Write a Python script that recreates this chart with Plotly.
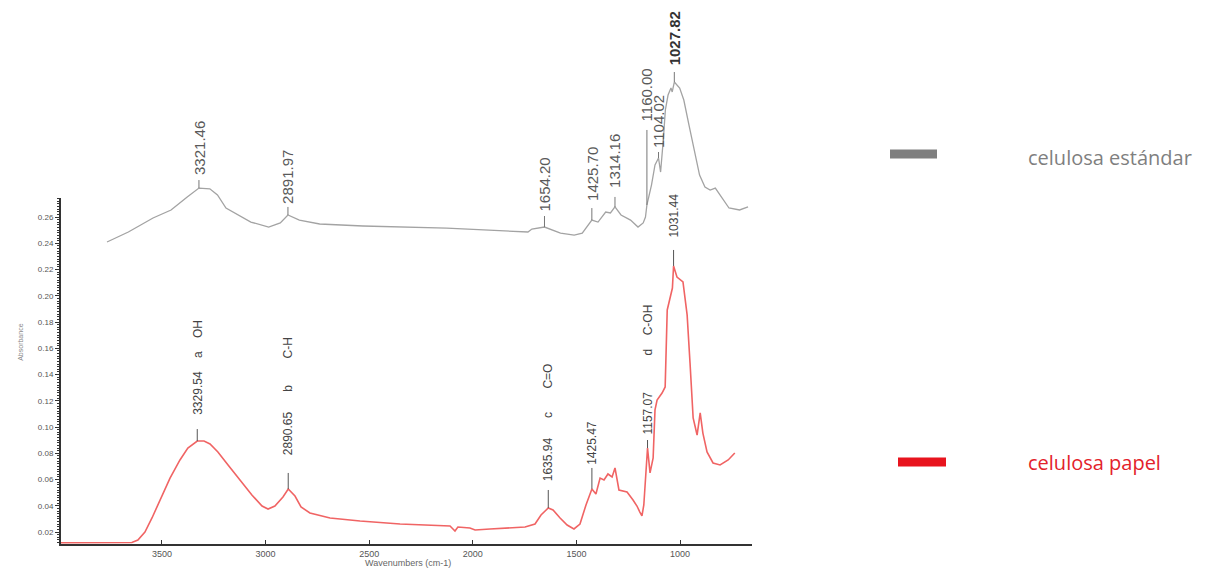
import plotly.graph_objects as go

# --- celulosa papel: wavenumber (cm-1) and absorbance ---
papel_wn = [3987, 3799, 3645, 3616, 3582, 3548, 3510, 3461, 3413, 3375,
            3329.54, 3297, 3268, 3230, 3181, 3124, 3066, 3017, 2988, 2955,
            2916, 2890.65, 2858, 2829, 2786, 2689, 2544, 2351, 2158, 2110,
            2086, 2072, 2014, 1989, 1917, 1821, 1748, 1700, 1671, 1635.94,
            1613, 1579, 1545, 1512, 1483, 1454, 1425.47, 1406, 1386, 1367,
            1348, 1328, 1314, 1295, 1256, 1227, 1208, 1194, 1184, 1175,
            1157.07, 1145, 1130, 1121, 1111, 1087, 1072, 1062, 1037, 1031.44,
            1015, 986, 966, 952, 937, 918, 903, 890, 870, 841,
            807, 768, 736]
papel_abs = [0.0118, 0.0118, 0.0120, 0.0139, 0.0200, 0.0307, 0.0444, 0.0611, 0.0749, 0.0840,
             0.0893, 0.0893, 0.0871, 0.0810, 0.0711, 0.0596, 0.0482, 0.0398, 0.0375, 0.0398,
             0.0467, 0.0528, 0.0474, 0.0391, 0.0345, 0.0307, 0.0284, 0.0261, 0.0246, 0.0246,
             0.0208, 0.0238, 0.0230, 0.0215, 0.0223, 0.0230, 0.0238, 0.0261, 0.0330, 0.0383,
             0.0368, 0.0307, 0.0253, 0.0223, 0.0261, 0.0406, 0.0528, 0.0490, 0.0611, 0.0596,
             0.0642, 0.0619, 0.0688, 0.0520, 0.0505, 0.0444, 0.0398, 0.0352, 0.0322, 0.0406,
             0.0840, 0.0650, 0.0764, 0.1130, 0.1206, 0.1259, 0.1305, 0.1892, 0.2059, 0.2227,
             0.2143, 0.2105, 0.1854, 0.1488, 0.1069, 0.0939, 0.1107, 0.0954, 0.0810, 0.0726,
             0.0711, 0.0749, 0.0802]

# --- celulosa estándar (offset spectrum drawn above) ---
estandar_wn = [3765, 3662, 3543, 3456, 3378, 3321.46, 3269, 3232, 3191, 3146,
               3071, 2985, 2929, 2891.97, 2837, 2739, 2530, 2126, 1734, 1715,
               1654.20, 1577, 1511, 1472, 1449, 1425.70, 1396, 1359, 1336, 1314.16,
               1285, 1239, 1203, 1178, 1167, 1160.00, 1138, 1121, 1104.02, 1094,
               1081, 1071, 1058, 1044, 1038, 1027.82, 1002, 982, 957, 931,
               906, 880, 855, 830, 799, 764, 713, 672]
estandar_abs = [0.2410, 0.2486, 0.2593, 0.2654, 0.2753, 0.2821, 0.2815, 0.2768, 0.2669, 0.2631,
                0.2562, 0.2524, 0.2555, 0.2616, 0.2577, 0.2547, 0.2532, 0.2516, 0.2486, 0.2509,
                0.2524, 0.2478, 0.2463, 0.2478, 0.2524, 0.2577, 0.2562, 0.2638, 0.2631, 0.2677,
                0.2616, 0.2577, 0.2524, 0.2555, 0.2600, 0.2692, 0.2844, 0.2997, 0.3050, 0.2943,
                0.3187, 0.3416, 0.3530, 0.3583, 0.3553, 0.3629, 0.3583, 0.3492, 0.3301, 0.3111,
                0.2920, 0.2829, 0.2806, 0.2821, 0.2745, 0.2669, 0.2654, 0.2677]

# peak labels (wavenumber, text)
papel_peaks = [3329.54, 2890.65, 1635.94, 1425.47, 1157.07, 1031.44]
papel_peak_text = ["3329.54    a    OH", "2890.65      b        C-H", "1635.94      c       C=O",
                   "1425.47", "1157.07           d    C-OH", "1031.44"]
estandar_peaks = [3321.46, 2891.97, 1654.20, 1425.70, 1314.16, 1160.00, 1104.02, 1027.82]
estandar_peak_text = ["3321.46", "2891.97", "1654.20", "1425.70", "1314.16", "1160.00", "1104.02", "1027.82"]

x_ticks = [3500, 3000, 2500, 2000, 1500, 1000]
y_ticks = [0.02, 0.04, 0.06, 0.08, 0.10, 0.12, 0.14, 0.16, 0.18, 0.20, 0.22, 0.24, 0.26]
series_names = ["celulosa estándar", "celulosa papel"]

# styling
GRAY_LINE = "#a3a3a3"
RED_LINE = "#f06464"
AXIS = "#333333"
LABEL_FONT = "Liberation Sans"
# (stick length px, text offset px) above each labelled peak
papel_marks = [(12, 24), (16, 32), (18, 25), (21, 22), (8, 11), (16, 26)]
estandar_marks = [(8, 11), (8, 9), (11, 14), (12, 17), (10, 17), (75, 82), (6, 8), (10, 15)]

W, H, L, R, B = 1210, 579, 61, 458, 35
PW, PH = W - L - R, H - B
Y_LO, Y_AXIS_TOP, Y2_TOP = 0.01086, 0.2745, 0.4254
PX_TOP = 198                              # pixel row where the drawn y axis ends
UNIT_PER_PX = (Y2_TOP - Y_LO) / PH

fig = go.Figure()
fig.add_trace(go.Scatter(x=estandar_wn, y=estandar_abs, mode="lines", yaxis="y2",
                         line=dict(color=GRAY_LINE, width=1.3), name=series_names[0],
                         showlegend=False, hoverinfo="skip"))
fig.add_trace(go.Scatter(x=papel_wn, y=papel_abs, mode="lines",
                         line=dict(color=RED_LINE, width=1.6), name=series_names[1],
                         showlegend=False, hoverinfo="skip"))

nb = lambda s: s.replace(" ", "\u00a0")


def label_peaks(wns, texts, marks, lookup, yaxis, yref, color, stick_color, size, bold_wn=None):
    sx, sy = [], []
    for wn, txt, (stick, off) in zip(wns, texts, marks):
        v = lookup[wn]
        sx += [wn, wn, None]
        sy += [v, v + stick * UNIT_PER_PX, None]
        bold = wn == bold_wn
        fig.add_annotation(x=wn, y=v, xref="x", yref=yref, yshift=off,
                           text=f"<b>{nb(txt)}</b>" if bold else nb(txt),
                           textangle=-90, showarrow=False,
                           yanchor="bottom", xanchor="center",
                           font=dict(family=LABEL_FONT, size=size,
                                     color="#333333" if bold else color))
    fig.add_trace(go.Scatter(x=sx, y=sy, mode="lines", yaxis=yaxis,
                             line=dict(color=stick_color, width=1),
                             showlegend=False, hoverinfo="skip"))


label_peaks(papel_peaks, papel_peak_text, papel_marks, dict(zip(papel_wn, papel_abs)),
            "y", "y", "#444444", "#555555", 12)
label_peaks(estandar_peaks, estandar_peak_text, estandar_marks,
            dict(zip(estandar_wn, estandar_abs)), "y2", "y2", "#5a5a5a", "#777777", 15,
            bold_wn=1027.82)

# axis titles
fig.add_annotation(text="Absorbance", xref="paper", yref="paper", x=-0.0666, y=0.333,
                   textangle=-90, showarrow=False,
                   font=dict(family=LABEL_FONT, size=7, color="#888888"))
fig.add_annotation(text="Wavenumbers (cm-1)", xref="paper", yref="paper", x=0.502, y=-0.048,
                   showarrow=False, font=dict(family=LABEL_FONT, size=9, color="#666666"))


# legend: colour swatch + label
def px(xp):
    return (xp - L) / PW


def py(yp):
    return (H - B - yp) / PH


legend = [(series_names[0], "#7f7f7f", "#7f7f7f", 890, 937, 154, 158),
          (series_names[1], "#e8141e", "#e3222b", 898, 946, 462, 462)]
for name, swatch, tcol, x0, x1, ys, yt in legend:
    fig.add_shape(type="rect", xref="paper", yref="paper",
                  x0=px(x0), x1=px(x1), y0=py(ys + 4.5), y1=py(ys - 4.5),
                  fillcolor=swatch, line=dict(width=0))
    fig.add_annotation(text=name, xref="paper", yref="paper", x=px(1026), y=py(yt),
                       xanchor="left", yanchor="middle", showarrow=False,
                       font=dict(family="Open Sans", size=20, color=tcol))

fig.update_layout(
    width=W, height=H,
    margin=dict(l=L, r=R, t=0, b=B),
    paper_bgcolor="white", plot_bgcolor="rgba(0,0,0,0)",
    showlegend=False,
    xaxis=dict(range=[3987, 653], tickvals=x_ticks, ticktext=[str(v) for v in x_ticks],
               showline=True, linecolor=AXIS, linewidth=2, ticks="inside", ticklen=4,
               tickcolor=AXIS, showgrid=False, zeroline=False,
               tickfont=dict(family=LABEL_FONT, size=9, color="#555555")),
    yaxis=dict(domain=[0, (PH - PX_TOP) / PH], range=[Y_LO, Y_AXIS_TOP],
               tickvals=y_ticks, ticktext=[f"{v:.2f}" for v in y_ticks],
               showline=True, linecolor=AXIS, linewidth=2, ticks="outside", ticklen=4,
               tickcolor=AXIS, showgrid=False, zeroline=False,
               minor=dict(dtick=0.002, ticks="outside", ticklen=2, tickcolor=AXIS, showgrid=False),
               tickfont=dict(family=LABEL_FONT, size=8, color="#555555")),
    yaxis2=dict(domain=[0, 1], range=[Y_LO, Y2_TOP], anchor="x", visible=False,
                showgrid=False, zeroline=False),
)

fig.write_html("out.html")
